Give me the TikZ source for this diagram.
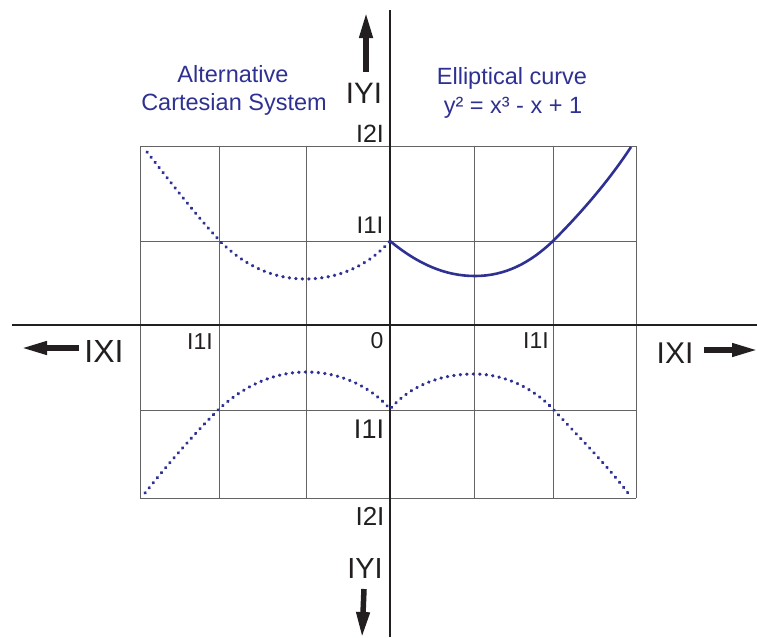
\documentclass[tikz,border=0pt]{standalone}
\usepackage{fontspec}
\setmainfont{Liberation Sans}
\usetikzlibrary{arrows.meta}
\definecolor{cblue}{HTML}{2E3192}
\definecolor{ink}{HTML}{231F20}
\begin{document}
\begin{tikzpicture}[x=1pt,y=-1pt,
 gridln/.style={draw=ink!70, line width=1pt},
 axisln/.style={draw=ink, line width=1.6pt},
 solidcurve/.style={draw=cblue, line width=2.6pt},
 dotcurve/.style={draw=cblue, line width=3.3pt, dash pattern=on 0.4pt off 6.1pt, line cap=round},
 bigarrow/.style={draw=ink, line width=5.5pt, -{Triangle[length=26pt,width=12.5pt]}},
 lbl/.style={inner sep=0pt, anchor=base, text=ink},
 btxt/.style={inner sep=0pt, anchor=base, text=cblue, font=\fontsize{23.5}{28}\selectfont},
]
\useasboundingbox (0,0) rectangle (757,637);

% grid
\foreach \gx in {140,219,306,474,553,636} {\draw[gridln] (\gx,146) -- (\gx,498);}
\foreach \gy in {146,241,410,498} {\draw[gridln] (140,\gy) -- (636,\gy);}

% axes
\coordinate (xl) at (12,325);
\coordinate (xr) at (757,325);
\coordinate (yt) at (390,10);
\coordinate (yb) at (390,637);
\draw[axisln] (xl) -- (xr);
\draw[axisln] (yt) -- (yb);

% direction arrows
\coordinate (la1) at (79,348);  \coordinate (la2) at (21,348);
\coordinate (ra1) at (704,350); \coordinate (ra2) at (758,350);
\coordinate (ua1) at (366,72);  \coordinate (ua2) at (366,12);
\coordinate (da1) at (364,589); \coordinate (da2) at (362,638);
\draw[bigarrow] (la1) -- (la2);
\draw[bigarrow] (ra1) -- (ra2);
\draw[bigarrow] (ua1) -- (ua2);
\draw[bigarrow] (da1) -- (da2);

% curves
\draw[dotcurve] (147,152) .. controls (172,184) and (195,214) .. (219,240)
  .. controls (244,266) and (274,279) .. (305,279)
  .. controls (338,279) and (368,266) .. (390,241);
\draw[solidcurve] (390,241) .. controls (418,264) and (445,276) .. (475,276)
  .. controls (505,276) and (530,263) .. (553,241)
  .. controls (580,214) and (608,182) .. (631,147);
\draw[dotcurve] (145,493) .. controls (168,464) and (194,434) .. (219,409)
  .. controls (245,385) and (275,372) .. (306,372)
  .. controls (340,372) and (370,386) .. (390,409)
  .. controls (410,386) and (440,374) .. (474,374)
  .. controls (506,374) and (534,389) .. (553,409)
  .. controls (578,436) and (608,466) .. (631,497);

% labels
\node[lbl, font=\fontsize{29.5}{30}\selectfont] (ytop) at (364,103) {IYI};
\node[lbl, font=\fontsize{25}{26}\selectfont] (twotop) at (370,142) {I2I};
\node[lbl, font=\fontsize{24}{25}\selectfont] (oneup) at (370,233) {I1I};
\node[lbl, font=\fontsize{23}{24}\selectfont] (zero) at (377,348) {0};
\node[lbl, font=\fontsize{23}{24}\selectfont] (oneleft) at (200,349) {I1I};
\node[lbl, font=\fontsize{23}{24}\selectfont] (oneright) at (536,348) {I1I};
\node[lbl, font=\fontsize{27}{28}\selectfont] (onelow) at (369,438) {I1I};
\node[lbl, font=\fontsize{26}{27}\selectfont] (twobot) at (370,525) {I2I};
\node[lbl, font=\fontsize{29}{30}\selectfont] (ybot) at (365,578) {IYI};
\node[lbl, font=\fontsize{32}{33}\selectfont] (xleft) at (104,362) {IXI};
\node[lbl, font=\fontsize{30}{31}\selectfont] (xright) at (675,363) {IXI};

% blue titles
\node[btxt] (alt1) at (233,82) {Alternative};
\node[btxt] (alt2) at (234,110) {Cartesian System};
\node[btxt] (ell1) at (512,84) {Elliptical curve};
\node[btxt] (ell2) at (513,113) {y² = x³ - x + 1};
\end{tikzpicture}
\end{document}
